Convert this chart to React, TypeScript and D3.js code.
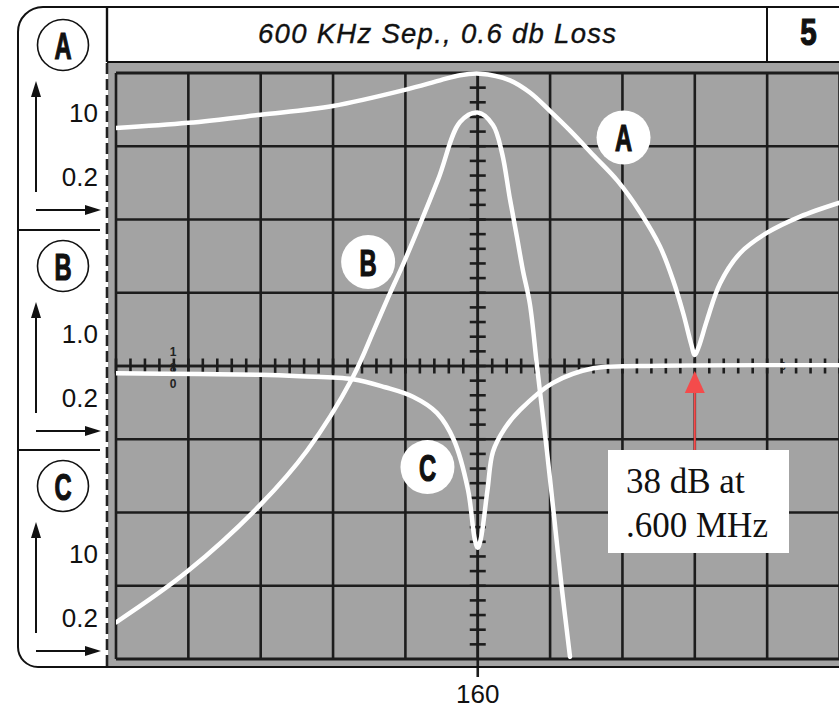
import React from 'react';
import * as d3 from 'd3';

const W = 839;
const H = 708;

// x: frequency offset from centre (kHz), 200 kHz per division; y: screen divisions from bottom (0..8)
const curveA: [number, number][] = [
  [-1000, 7.25], [-800, 7.32], [-600, 7.43], [-400, 7.55], [-201, 7.77], [-104, 7.9],
  [-49, 7.97], [6, 7.99], [89, 7.9], [145, 7.73], [200, 7.48], [256, 7.21], [319, 6.88],
  [386, 6.53], [449, 6.1], [504, 5.63], [540, 5.17], [568, 4.72], [590, 4.3], [600, 4.15],
  [610, 4.25], [634, 4.63], [670, 5.13], [725, 5.54], [800, 5.82], [891, 6.04], [1000, 6.23],
];
const curveB: [number, number][] = [
  [-1000, 0.5], [-804, 1.19], [-602, 2.1], [-471, 2.85], [-345, 3.85],
  [-287, 4.49], [-251, 4.9], [-201, 5.45], [-110, 6.54], [-49, 7.33], [0, 7.46], [42, 7.29],
  [67, 6.91], [89, 6.28], [108, 5.77], [125, 5.3], [144, 4.85], [164, 3.99], [191, 2.85],
  [208, 2.08], [233, 0.94], [255, 0.03],
];
const curveC: [number, number][] = [
  [-1000, 3.9], [-768, 3.89], [-602, 3.88], [-491, 3.86], [-345, 3.82], [-256, 3.71],
  [-179, 3.58], [-113, 3.36], [-66, 2.99], [-27, 2.31], [-8, 1.63], [0, 1.52], [8, 1.63],
  [27, 2.31], [42, 2.83], [75, 3.15], [117, 3.4], [208, 3.77], [319, 3.97], [449, 4.0], [1000, 4.01],
];

// curve labels placed in data units
const curveLabels = [
  { name: 'A', x: 403, y: 7.12 },
  { name: 'B', x: -303, y: 5.42 },
  { name: 'C', x: -139, y: 2.62 },
];

const panelNames = ['A', 'B', 'C'];
const panelTopLabels = ['10', '1.0', '10'];
const panelBottomLabels = ['0.2', '0.2', '0.2'];
const centreLabel = '160';
const title = '600 KHz Sep., 0.6 db Loss';
const pageNumber = '5';
const noteLines = ['38 dB at', '.600 MHz'];
const notchFreq = 600;
const strayDigits = ['1', '8', '0'];

const xGrid = d3.range(-1000, 1201, 200);
const yGrid = d3.range(0, 9, 1);
const xMinor = d3.range(-1000, 1001, 40);
const yMinor = d3.range(0.2, 7.9, 0.2);

const SANS = "'Liberation Sans', Arial, Helvetica, sans-serif";
const SERIF = "'Liberation Serif', 'Times New Roman', serif";
const GRID = '#1c1c1c';
const GRAY = '#a3a3a3';
const RED = '#f44b4b';

function CondensedLetter({ cx, cy, text, size, sx }: { cx: number; cy: number; text: string; size: number; sx: number }) {
  return (
    <text
      transform={`translate(${cx},${cy}) scale(${sx},1)`}
      textAnchor="middle"
      dominantBaseline="central"
      fontFamily={SANS}
      fontWeight={900}
      fontSize={size}
      fill="#111"
      stroke="#111"
      strokeWidth={1.2}
    >
      {text}
    </text>
  );
}

export default function App() {
  const x = d3.scaleLinear().domain([-1000, 1000]).range([116, 839.5]);
  const y = d3.scaleLinear().domain([0, 8]).range([659, 73]);
  const line = d3
    .line<[number, number]>()
    .x((d) => x(d[0]))
    .y((d) => y(d[1]))
    .curve(d3.curveCatmullRom.alpha(0.5));

  const plotL = x(-1000);
  const plotR = W;
  const plotT = y(8);
  const plotB = y(0);
  const axY = y(4);
  const axX = x(0);

  const panelCentres = [45, 266, 486];

  return (
    <svg
      width={W}
      height={H}
      viewBox={`0 0 ${W} ${H}`}
      style={{ position: 'absolute', left: 0, top: 0, display: 'block', background: '#fff' }}
    >
      <defs>
        <clipPath id="plotclip">
          <rect x={plotL} y={plotT - 3} width={plotR - plotL} height={plotB - plotT + 3} />
        </clipPath>
      </defs>

      {/* gray screen area */}
      <rect x={108} y={63} width={W - 108} height={603} fill={GRAY} />

      {/* grid */}
      {xGrid.map((v) => (
        <line key={'gx' + v} x1={x(v)} x2={x(v)} y1={plotT} y2={plotB} stroke={GRID} strokeWidth={2.6} />
      ))}
      {yGrid.map((v) => (
        <line key={'gy' + v} x1={plotL} x2={plotR} y1={y(v)} y2={y(v)} stroke={GRID} strokeWidth={v === 0 || v === 8 ? 3.2 : 2.6} />
      ))}

      {/* centre axes with minor ticks */}
      <line x1={plotL} x2={plotR} y1={axY} y2={axY} stroke={GRID} strokeWidth={2.6} />
      {xMinor.map((v) => (
        <line key={'tx' + v} x1={x(v)} x2={x(v)} y1={axY - 7.5} y2={axY + 7.5} stroke={GRID} strokeWidth={2.6} />
      ))}
      <line x1={axX} x2={axX} y1={plotT} y2={677} stroke={GRID} strokeWidth={2.6} />
      {yMinor.map((v) => (
        <line key={'ty' + v.toFixed(1)} x1={axX - 8} x2={axX + 8} y1={y(v)} y2={y(v)} stroke={GRID} strokeWidth={2.6} />
      ))}

      {/* stray scale markings on the screen */}
      {strayDigits.map((d, i) => (
        <text
          key={'sd' + i}
          x={x(-842)}
          y={axY - 10 + i * 16}
          textAnchor="middle"
          fontFamily={SANS}
          fontWeight={700}
          fontSize={12}
          fill="#222"
        >
          {d}
        </text>
      ))}
      <text x={x(844)} y={axY + 4} textAnchor="middle" fontFamily={SANS} fontWeight={700} fontSize={11} fill="#222">
        0
      </text>

      {/* traces */}
      <g clipPath="url(#plotclip)" fill="none" stroke="#fff" strokeWidth={4.5} strokeLinecap="round" strokeLinejoin="round">
        <path d={line(curveC) || ''} />
        <path d={line(curveB) || ''} />
        <path d={line(curveA) || ''} />
      </g>

      {/* curve labels */}
      {curveLabels.map((l) => (
        <g key={'cl' + l.name}>
          <circle cx={x(l.x)} cy={y(l.y)} r={27} fill="#fff" />
          <CondensedLetter cx={x(l.x)} cy={y(l.y) + 1} text={l.name} size={36} sx={0.66} />
        </g>
      ))}

      {/* annotation */}
      <line x1={x(notchFreq)} x2={x(notchFreq)} y1={390} y2={451} stroke={RED} strokeWidth={2} />
      <path
        d={`M${x(notchFreq)},${y(4) + 5} L${x(notchFreq) + 10},${y(4) + 27} L${x(notchFreq) - 10},${y(4) + 27} Z`}
        fill={RED}
      />
      <rect x={608} y={450} width={181} height={103} fill="#fff" />
      {noteLines.map((t, i) => (
        <text key={t} x={626} y={493 + i * 44} fontFamily={SERIF} fontSize={35} fill="#111">
          {t}
        </text>
      ))}

      {/* frame */}
      <path
        d={`M${W},7 H43 A25,25 0 0 0 18,32 V647 A20,20 0 0 0 38,667 H${W}`}
        fill="none"
        stroke="#111"
        strokeWidth={2}
      />
      <line x1={107} x2={W} y1={62} y2={62} stroke="#111" strokeWidth={2.2} />
      <line x1={767} x2={767} y1={7} y2={62} stroke="#111" strokeWidth={2} />
      <line x1={107} x2={107} y1={7} y2={62} stroke="#111" strokeWidth={2.4} />
      <line x1={107} x2={107} y1={63} y2={667} stroke="#222" strokeWidth={2.6} strokeDasharray="11 5" />
      {[230, 450].map((v) => (
        <line key={'sep' + v} x1={18} x2={100} y1={v} y2={v} stroke="#111" strokeWidth={2} />
      ))}

      {/* title bar */}
      <text
        x={258}
        y={43}
        textLength={358}
        lengthAdjust="spacing"
        fontFamily={SANS}
        fontStyle="italic"
        fontSize={27.5}
        fill="#111"
        stroke="#111"
        strokeWidth={0.35}
      >
        {title}
      </text>
      <CondensedLetter cx={808.5} cy={32} text={pageNumber} size={37} sx={0.8} />

      {/* left-hand scale panels */}
      {panelNames.map((n, i) => {
        const c = panelCentres[i];
        return (
          <g key={'p' + n}>
            <circle cx={63} cy={c} r={25.5} fill="#fff" stroke="#111" strokeWidth={1.6} />
            <CondensedLetter cx={63} cy={c + 1} text={n} size={37} sx={0.64} />
            <line x1={36} x2={36} y1={c + 50} y2={c + 147} stroke="#111" strokeWidth={2} />
            <path d={`M36,${c + 36} L41,${c + 52} L31,${c + 52} Z`} fill="#111" />
            <line x1={36} x2={88} y1={c + 165} y2={c + 165} stroke="#111" strokeWidth={2} />
            <path d={`M101,${c + 165} L85,${c + 160} L85,${c + 170} Z`} fill="#111" />
            <text x={98} y={c + 77} textAnchor="end" fontFamily={SANS} fontSize={26} fill="#111">
              {panelTopLabels[i]}
            </text>
            <text x={98} y={c + 141} textAnchor="end" fontFamily={SANS} fontSize={26} fill="#111">
              {panelBottomLabels[i]}
            </text>
          </g>
        );
      })}

      {/* centre frequency label */}
      <text x={axX} y={703} textAnchor="middle" fontFamily={SANS} fontSize={26} fill="#111">
        {centreLabel}
      </text>
    </svg>
  );
}
